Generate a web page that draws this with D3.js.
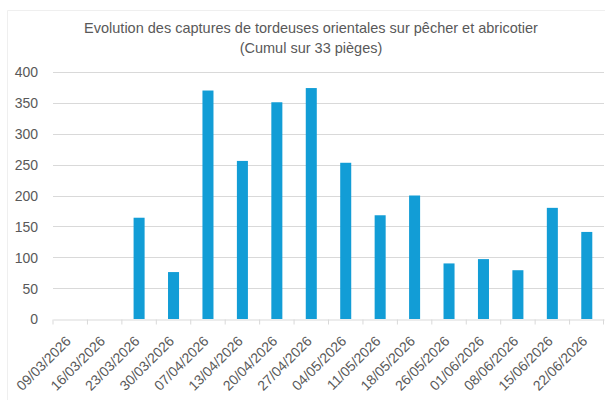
<!DOCTYPE html>
<html>
<head>
<meta charset="utf-8">
<script src="https://cdn.jsdelivr.net/npm/d3@7/dist/d3.min.js"></script>
<style>
  html, body { margin: 0; padding: 0; background: #fff; }
  svg { display: block; font-family: "Liberation Sans", Arial, sans-serif; }
</style>
</head>
<body>
<svg id="chart" width="605" height="400"></svg>
<script>
const categories = ["09/03/2026","16/03/2026","23/03/2026","30/03/2026","07/04/2026","13/04/2026","20/04/2026","27/04/2026","04/05/2026","11/05/2026","18/05/2026","26/05/2026","01/06/2026","08/06/2026","15/06/2026","22/06/2026"];
const captures = [0, 0, 164, 76, 370, 256, 351, 374, 253, 168, 200, 90, 97, 79, 180, 141];
const yTicks = [0, 50, 100, 150, 200, 250, 300, 350, 400];
const titleLines = ["Evolution des captures de tordeuses orientales sur pêcher et abricotier", "(Cumul sur 33 pièges)"];

const svg = d3.select("#chart");
const margin = {left: 53, right: 1, top: 72, bottom: 81};
const W = 605, H = 400;

// faint outer border
svg.append("path")
  .attr("d", `M7.5,${H} V10.5 H${W}`)
  .attr("fill", "none").attr("stroke", "#efefef").attr("stroke-width", 1);

const x = d3.scaleBand().domain(categories).range([margin.left, W - margin.right]).paddingInner(0.68).paddingOuter(0.34);
const xTickScale = d3.scaleBand().domain(categories).range([margin.left, W - margin.right]);
const y = d3.scaleLinear().domain([0, 400]).range([H - margin.bottom, margin.top]);

// gridlines
svg.append("g").selectAll("line").data(yTicks.filter(d => d > 0)).join("line")
  .attr("x1", margin.left).attr("x2", W - margin.right)
  .attr("y1", d => Math.round(y(d)) + 0.5).attr("y2", d => Math.round(y(d)) + 0.5)
  .attr("stroke", "#d9d9d9").attr("stroke-width", 1);

// y axis labels
const yAxis = d3.axisLeft(y).tickValues(yTicks).tickSize(0).tickPadding(0);
const gy = svg.append("g").attr("transform", `translate(38,0)`).call(yAxis);
gy.select(".domain").remove();
gy.selectAll("text").attr("font-size", 14).attr("fill", "#595959").attr("dy", "0.35em");

// bars
svg.append("g").selectAll("rect").data(captures).join("rect")
  .attr("x", (d, i) => x(categories[i]))
  .attr("width", x.bandwidth())
  .attr("y", d => y(d))
  .attr("height", d => y(0) - y(d))
  .attr("fill", "#129dd6");

// x axis
const xAxis = d3.axisBottom(xTickScale).tickSize(5).tickSizeOuter(0).tickFormat(d => d);
const gx = svg.append("g").attr("transform", `translate(0,${Math.round(y(0)) + 0.5})`).call(xAxis);
gx.select(".domain").attr("stroke", "#d9d9d9");
gx.selectAll(".tick line").attr("stroke", "#d9d9d9").attr("transform", `translate(${-xTickScale.bandwidth()/2},0)`);
// extra tick at right end
gx.append("line").attr("x1", W - margin.right - 0.5).attr("x2", W - margin.right - 0.5).attr("y1", 0).attr("y2", 5).attr("stroke", "#d9d9d9");
gx.selectAll(".tick text")
  .attr("font-size", 14).attr("fill", "#595959")
  .attr("text-anchor", "end")
  .attr("dy", "0.35em")
  .attr("transform", "translate(-2,19) rotate(-45)")
  .attr("y", 0).attr("x", 0);

// title
const t = svg.append("text").attr("text-anchor", "middle").attr("fill", "#595959").attr("font-size", 14.5);
t.selectAll("tspan").data(titleLines).join("tspan")
  .attr("x", 311).attr("y", (d, i) => 33 + i * 20).text(d => d);
</script>
</body>
</html>
